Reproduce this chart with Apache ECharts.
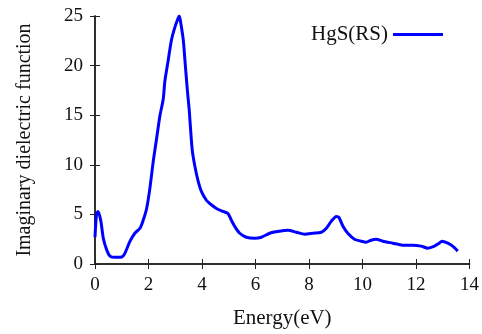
<!DOCTYPE html>
<html>
<head>
<meta charset="utf-8">
<script src="https://cdn.jsdelivr.net/npm/echarts@6/dist/echarts.min.js"></script>
<style>
  html, body { margin: 0; padding: 0; background: #fff; }
  #chart { width: 482px; height: 334px; }
</style>
</head>
<body>
<div id="chart"></div>
<script>
const energy = [0.0, 0.06, 0.12, 0.22, 0.31, 0.44, 0.56, 0.75, 1.0, 1.12, 1.31, 1.49, 1.68, 1.8, 1.93, 2.05,
  2.18, 2.3, 2.43, 2.55, 2.61, 2.74, 2.86, 2.99, 3.11, 3.15, 3.2, 3.3, 3.36, 3.45, 3.52, 3.63, 3.73, 3.86,
  3.98, 4.17, 4.29, 4.54, 4.79, 4.97, 5.1, 5.22, 5.41, 5.66, 5.97, 6.22, 6.53, 6.9, 7.21, 7.53, 7.84, 8.15,
  8.46, 8.65, 8.83, 9.02, 9.12, 9.27, 9.45, 9.7, 9.95, 10.14, 10.32, 10.51, 10.76, 11.13, 11.5, 11.88,
  12.19, 12.44, 12.69, 12.87, 12.97, 13.19, 13.37, 13.56];
const epsImag = [2.7, 5.1, 5.3, 4.3, 2.6, 1.4, 0.8, 0.67, 0.7, 1.1, 2.3, 3.1, 3.6, 4.4, 5.6, 7.6,
  10.4, 12.6, 15.0, 16.6, 18.4, 20.6, 22.6, 23.9, 24.8, 25.0, 24.4, 22.6, 20.6, 17.6, 15.6, 11.6, 9.9, 8.3,
  7.3, 6.4, 6.1, 5.6, 5.3, 5.1, 4.4, 3.8, 3.1, 2.7, 2.6, 2.7, 3.1, 3.3, 3.4, 3.2, 3.0, 3.1,
  3.2, 3.6, 4.3, 4.8, 4.7, 3.8, 3.1, 2.5, 2.3, 2.2, 2.4, 2.5, 2.3, 2.1, 1.9, 1.9,
  1.8, 1.6, 1.8, 2.1, 2.3, 2.1, 1.8, 1.3];
const seriesName = 'HgS(RS)';

const font = 'Liberation Serif';
const axisColor = '#222';

const chart = echarts.init(document.getElementById('chart'));
chart.setOption({
  animation: false,
  grid: { left: 95, right: 12, top: 16, bottom: 68 },
  legend: {
    top: 19, right: 34,
    itemWidth: 50, itemHeight: 3, itemGap: 10,
    align: 'right',
    icon: 'rect',
    textStyle: { fontFamily: font, fontSize: 21, color: '#111' },
    data: [seriesName]
  },
  xAxis: [
    {
      type: 'value', min: 0, max: 14, interval: 2,
      name: 'Energy(eV)', nameLocation: 'middle', nameGap: 44,
      nameTextStyle: { fontFamily: font, fontSize: 21, color: '#111' },
      axisLine: { lineStyle: { color: axisColor, width: 1.5 } },
      axisTick: { inside: true, length: 5, lineStyle: { color: axisColor } },
      axisLabel: { fontFamily: font, fontSize: 19, color: '#111', margin: 12 },
      splitLine: { show: false }
    },
    {
      type: 'value', min: 0, max: 14, interval: 2, position: 'top',
      axisLine: { show: true, lineStyle: { color: axisColor, width: 1.5 } },
      axisTick: { inside: true, length: 5, lineStyle: { color: axisColor } },
      axisLabel: { show: false },
      splitLine: { show: false }
    }
  ],
  yAxis: [
    {
      type: 'value', min: 0, max: 25, interval: 5,
      name: 'Imaginary dielectric function', nameLocation: 'middle', nameGap: 60,
      nameTextStyle: { fontFamily: font, fontSize: 20, color: '#111' },
      axisLine: { show: true, lineStyle: { color: axisColor, width: 1.5 } },
      axisTick: { show: true, inside: true, length: 5, lineStyle: { color: axisColor } },
      axisLabel: { fontFamily: font, fontSize: 19, color: '#111', margin: 12 },
      splitLine: { show: false }
    },
    {
      type: 'value', min: 0, max: 25, interval: 5, position: 'right',
      axisLine: { show: true, lineStyle: { color: axisColor, width: 1.5 } },
      axisTick: { show: true, inside: true, length: 5, lineStyle: { color: axisColor } },
      axisLabel: { show: false },
      splitLine: { show: false }
    }
  ],
  series: [
    {
      name: seriesName,
      type: 'line',
      data: energy.map((e, i) => [e, epsImag[i]]),
      showSymbol: false,
      smooth: 0.25,
      color: '#0000ff',
      lineStyle: { color: '#0000ff', width: 3 }
    }
  ]
});
</script>
</body>
</html>
